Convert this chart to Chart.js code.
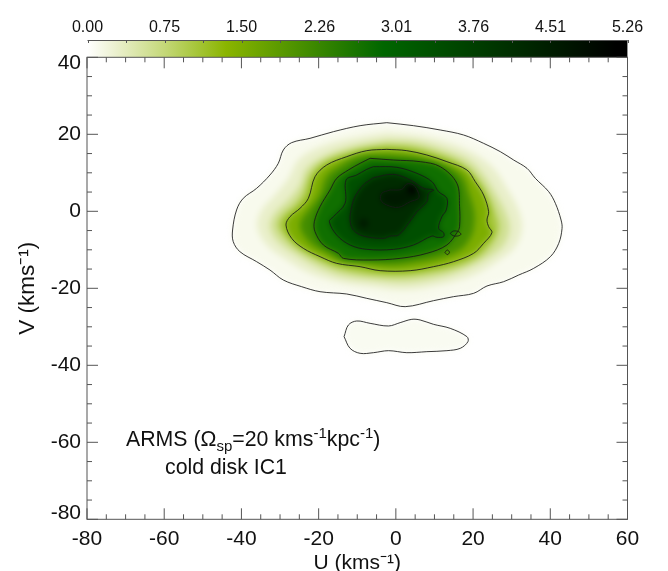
<!DOCTYPE html>
<html>
<head>
<meta charset="utf-8">
<style>
  body { margin: 0; background: #fff; }
  #wrap { position: relative; width: 668px; height: 571px; overflow: hidden; }
  canvas { position: absolute; left: 0; top: 0; }
  #density { filter: blur(3px); }
  .note { position: absolute; font: 21.3px "Liberation Sans", sans-serif; color: #111; white-space: nowrap; }
  .note sup, .note sub { font-size: 15px; line-height: 0; }
</style>
<script src="https://cdn.jsdelivr.net/npm/chart.js@4"></script>
</head>
<body>
<div id="wrap">
  <canvas id="density" width="668" height="571"></canvas>
  <canvas id="colorbar" width="668" height="60"></canvas>
  <canvas id="main" width="668" height="571"></canvas>
  <div class="note" style="left:126px;top:427px">ARMS (&Omega;<sub>sp</sub>=20 kms<sup>-1</sup>kpc<sup>-1</sup>)</div>
  <div class="note" style="left:165px;top:455px">cold disk IC1</div>
</div>
<script>
// colour bar
const barTicks = [0, 0.75, 1.5, 2.26, 3.01, 3.76, 4.51, 5.26];
const barLevels = [0, 0.3, 0.75, 1.35, 2.88, 5.15];
const barColors = ['#ffffff', '#e9efca', '#c4d878', '#8ab500', '#006600', '#000000'];

// contours, [U, V] in km/s
const contour1 = [[-2.35,23.02],[4.57,22.24],[11.49,21.12],[17.54,19.82],[22.73,17.65],[27.05,15.49],[30.51,13.32],[33.97,11.16],[36.13,8.56],[39.59,5.10],[41.32,2.07],[42.79,-2.26],[43.05,-4.43],[42.19,-8.32],[40.03,-11.78],[35.70,-14.82],[31.81,-16.55],[27.92,-18.28],[23.60,-19.40],[20.14,-21.31],[14.95,-22.17],[9.76,-23.21],[2.41,-24.77],[-2.35,-23.73],[-7.53,-22.61],[-12.72,-21.48],[-19.64,-20.88],[-24.40,-19.58],[-29.15,-17.85],[-32.61,-15.25],[-36.07,-13.08],[-40.39,-10.49],[-42.12,-7.89],[-42.29,-4.86],[-41.26,0.34],[-39.53,3.37],[-36.07,5.96],[-32.61,9.43],[-30.45,12.46],[-29.15,15.92],[-26.99,17.83],[-22.23,18.95],[-16.18,20.68],[-9.26,22.24]];
const contour2 = [[-2.35,16.09],[2.84,15.75],[8.03,14.62],[13.22,12.89],[18.41,10.73],[20.57,7.70],[22.73,4.23],[24.03,-0.10],[23.60,-2.26],[24.03,-3.99],[24.89,-5.55],[22.73,-8.32],[20.14,-10.92],[14.95,-13.08],[9.76,-14.38],[3.71,-15.42],[-4.07,-15.42],[-9.26,-14.38],[-15.32,-13.52],[-19.64,-11.78],[-23.96,-9.62],[-26.99,-7.02],[-28.46,-3.56],[-27.42,-1.40],[-24.83,0.77],[-22.66,3.37],[-20.94,8.99],[-17.91,12.02],[-12.72,14.19],[-7.53,15.75]];
const contour3 = [[-6.67,13.76],[-0.62,13.32],[6.30,12.89],[11.49,11.59],[15.81,7.26],[16.50,1.20],[16.50,-3.99],[15.99,-5.29],[13.22,-8.75],[8.03,-10.92],[1.11,-12.22],[-6.67,-12.65],[-13.59,-12.22],[-14.88,-10.92],[-18.77,-8.75],[-20.94,-5.29],[-21.11,-2.69],[-19.64,1.20],[-17.05,5.53],[-15.32,8.56],[-12.29,10.73],[-9.26,12.46]];
const contour4 = [[-5.80,11.59],[0.25,11.42],[5.44,9.86],[9.33,7.70],[11.06,5.10],[13.22,3.37],[13.05,0.34],[11.92,-1.40],[11.06,-4.43],[12.35,-5.55],[12.35,-6.59],[10.63,-6.76],[9.33,-6.42],[4.57,-8.75],[-0.62,-9.88],[-7.53,-9.88],[-11.86,-8.75],[-15.32,-6.16],[-17.22,-2.69],[-16.18,-1.40],[-13.15,2.07],[-12.89,8.13],[-10.13,9.43],[-7.53,10.90]];
const contour5 = [[-5.80,8.73],[-0.62,9.60],[3.71,8.13],[7.17,5.96],[9.76,5.53],[8.46,4.67],[8.03,2.50],[5.44,-0.10],[3.27,-3.13],[0.68,-6.16],[-1.48,-6.42],[-3.21,-7.02],[-8.40,-6.42],[-10.99,-4.86],[-11.86,-2.26],[-11.42,1.20],[-10.56,3.80],[-8.40,6.83]];
const contour6 = [[-1.48,5.53],[1.55,5.70],[2.84,7.09],[4.57,6.83],[5.87,4.67],[5.87,3.37],[3.71,2.50],[0.68,1.03],[-2.35,1.63],[-3.90,2.93],[-3.64,4.67]];
const island = [[-13.41,-32.56],[-12.29,-29.53],[-10.13,-28.49],[-6.67,-29.10],[-1.91,-29.79],[1.11,-28.92],[4.14,-28.06],[6.30,-28.23],[9.76,-29.36],[14.08,-30.40],[18.41,-32.56],[18.67,-33.86],[16.68,-35.59],[13.22,-36.20],[8.03,-36.46],[2.84,-36.72],[-1.91,-36.20],[-5.81,-36.72],[-9.26,-36.89],[-11.86,-35.59]];
const oval = [[14.08,-5.72],[14.95,-5.12],[16.25,-5.29],[16.85,-5.98],[15.99,-6.42],[14.78,-6.33]];
const ring = [[12.7,-10.66],[13.31,-10.05],[13.9,-10.66],[13.31,-11.25]];

// in-between shells of the density, only used for the shading
const shellB = [[-2.35,20.42],[6.30,19.56],[14.08,17.65],[20.14,15.05],[25.33,11.16],[28.78,5.96],[31.81,0.34],[32.67,-4.43],[30.95,-9.19],[26.19,-13.08],[20.14,-16.55],[11.49,-19.14],[2.41,-20.44],[-6.67,-19.58],[-15.32,-18.28],[-22.23,-16.11],[-28.29,-12.65],[-33.47,-8.75],[-35.90,-3.99],[-34.77,0.34],[-31.31,4.23],[-27.85,8.56],[-25.26,13.32],[-20.50,16.35],[-12.72,18.69]];
const shellC = [[-2.35,18.52],[5.44,18.08],[12.35,16.09],[18.84,13.32],[22.73,9.43],[25.76,4.67],[28.35,-0.10],[29.48,-4.43],[27.92,-8.75],[23.60,-12.22],[17.54,-15.25],[10.63,-17.41],[2.41,-18.54],[-6.67,-17.85],[-14.45,-16.72],[-20.50,-14.38],[-25.69,-11.35],[-30.45,-7.89],[-32.61,-3.99],[-31.31,-0.53],[-27.85,2.93],[-24.83,6.83],[-23.10,11.16],[-17.91,14.62],[-10.13,17.22]];
const shellD = [[-2.35,17.22],[4.14,16.79],[10.63,15.05],[16.68,12.46],[21.00,8.56],[24.03,3.80],[25.76,-0.53],[26.62,-4.43],[24.89,-8.32],[21.44,-11.78],[15.81,-14.38],[9.76,-15.85],[2.41,-16.81],[-5.80,-16.55],[-13.59,-15.25],[-19.21,-13.08],[-24.83,-10.05],[-28.72,-6.59],[-30.45,-3.56],[-29.15,-0.96],[-26.12,1.63],[-23.96,4.67],[-22.23,9.43],[-18.77,12.89],[-11.86,15.49],[-6.67,16.61]];
const shellE = [[-2.35,14.8],[3,14.4],[8,13.6],[13,12.0],[17.3,9.0],[19,4.5],[20.3,0],[20.3,-3.5],[19.5,-6.5],[17,-9.8],[12,-12],[6,-13.2],[0,-14],[-7,-13.6],[-14,-13],[-17.5,-11],[-21.5,-8.8],[-24.3,-5.5],[-24.7,-2.8],[-22.3,0.8],[-19.8,4.2],[-18,9],[-15,11.5],[-10,14.3]];
const peakA = [[3.2,6.6],[4.4,7.0],[5.4,6.0],[5.2,4.8],[4.0,4.6],[3.1,5.5]];
const peakB = [[-9.1,-2.4],[-8.1,-2.1],[-7.3,-3.0],[-8.0,-4.0],[-9.0,-3.8]];

// outer to inner: outline and density level
const shells = [contour1, island, shellB, shellC, shellD, contour2, shellE, contour3, contour4, contour5, contour6, peakA, peakB];
const shellLevels = [0.1, 0.08, 0.3, 0.6, 1.05, 1.5, 2.15, 2.7, 3.4, 4.2, 4.6, 5.4, 4.8];
const contourLines = [contour1, island, contour2, contour3, contour4, contour5, contour6, oval, ring];

const FONT = '"Liberation Sans", sans-serif';
const AREA = { left: 87, right: 40.5, top: 57.3, bottom: 51.7 };

function hexRgb(h) {
  return [1, 3, 5].map(i => parseInt(h.substr(i, 2), 16));
}

function levelColor(v) {
  let i = 0;
  while (i < barLevels.length - 2 && v > barLevels[i + 1]) i++;
  const t = Math.min(1, (v - barLevels[i]) / (barLevels[i + 1] - barLevels[i]));
  const a = hexRgb(barColors[i]), b = hexRgb(barColors[i + 1]);
  return 'rgb(' + a.map((c, k) => Math.round(c + (b[k] - c) * t)).join(',') + ')';
}

function closed(pts) {
  return pts.concat([pts[0]]).map(p => ({ x: p[0], y: p[1] }));
}

const xRange = { type: 'linear', min: -80, max: 60 };
const yRange = { type: 'linear', min: -80, max: 40 };

// smooth density underneath, blurred with css
new Chart(document.getElementById('density'), {
  type: 'scatter',
  data: {
    datasets: shells.map((pts, i) => ({
      data: closed(pts),
      showLine: true,
      tension: 0.35,
      fill: 'shape',
      borderWidth: 0,
      pointRadius: 0,
      backgroundColor: levelColor(shellLevels[i]),
      order: -i
    }))
  },
  options: {
    responsive: false,
    animation: false,
    events: [],
    layout: { padding: AREA },
    plugins: { legend: { display: false }, tooltip: { enabled: false } },
    scales: { x: { ...xRange, display: false }, y: { ...yRange, display: false } }
  }
});

// colour bar, a single bar with the gradient of the colour scale
new Chart(document.getElementById('colorbar'), {
  type: 'bar',
  data: {
    labels: [''],
    datasets: [{
      data: [barTicks[barTicks.length - 1]],
      barPercentage: 1,
      categoryPercentage: 1,
      backgroundColor(ctx) {
        const s = ctx.chart.scales.x;
        const x0 = s ? s.getPixelForValue(0) : NaN, x1 = s ? s.getPixelForValue(5.26) : NaN;
        if (!isFinite(x0) || !isFinite(x1)) return '#000';
        const g = ctx.chart.ctx.createLinearGradient(x0, 0, x1, 0);
        barLevels.forEach((v, i) => g.addColorStop(v / 5.26, barColors[i]));
        return g;
      }
    }]
  },
  options: {
    indexAxis: 'y',
    responsive: false,
    animation: false,
    events: [],
    layout: { padding: { left: AREA.left + 0.5, right: AREA.right, top: 0, bottom: 60 - AREA.top } },
    plugins: { legend: { display: false }, tooltip: { enabled: false } },
    scales: {
      x: {
        type: 'linear',
        position: 'top',
        min: 0,
        max: 5.26,
        afterBuildTicks(s) { s.ticks = barTicks.map(v => ({ value: v })); },
        afterFit(s) { s.height = 40; },
        grid: { display: false, drawTicks: false },
        border: { display: false },
        ticks: {
          autoSkip: false,
          maxRotation: 0,
          padding: 3,
          color: '#111',
          font: { family: FONT, size: 16 },
          callback: v => v.toFixed(2)
        }
      },
      y: { display: false }
    }
  },
  plugins: [{
    id: 'barTicks',
    afterDraw(chart) {
      const { ctx, chartArea: a, scales } = chart;
      ctx.save();
      ctx.strokeStyle = '#555';
      ctx.lineWidth = 1;
      ctx.beginPath();
      ctx.moveTo(a.left, a.top + 0.5);
      ctx.lineTo(a.right, a.top + 0.5);
      for (let k = 0; k <= 14; k++) {
        const x = Math.round(scales.x.getPixelForValue(k * 5.26 / 14)) + 0.5;
        ctx.moveTo(x, a.top);
        ctx.lineTo(x, a.top + 3);
      }
      ctx.stroke();
      ctx.restore();
    }
  }]
});

// axes frame with inward ticks on all four sides
const frameTicks = {
  id: 'frameTicks',
  afterDraw(chart) {
    const { ctx, chartArea: a, scales: { x, y } } = chart;
    ctx.save();
    ctx.strokeStyle = '#555';
    ctx.lineWidth = 1;
    ctx.strokeRect(a.left, a.top, a.right - a.left, a.bottom - a.top);
    ctx.beginPath();
    for (let u = -80; u <= 60; u += 5) {
      const px = x.getPixelForValue(u), len = u % 20 === 0 ? 11 : 5;
      ctx.moveTo(px, a.bottom); ctx.lineTo(px, a.bottom - len);
      ctx.moveTo(px, a.top); ctx.lineTo(px, a.top + len);
    }
    for (let v = -80; v <= 40; v += 5) {
      const py = y.getPixelForValue(v), len = v % 20 === 0 ? 11 : 5;
      ctx.moveTo(a.left, py); ctx.lineTo(a.left + len, py);
      ctx.moveTo(a.right, py); ctx.lineTo(a.right - len, py);
    }
    ctx.stroke();
    ctx.restore();
  }
};

new Chart(document.getElementById('main'), {
  type: 'scatter',
  data: {
    datasets: contourLines.map(pts => ({
      data: closed(pts),
      showLine: true,
      tension: 0.35,
      borderColor: 'rgba(25,25,25,0.85)',
      borderWidth: 1,
      pointRadius: 0
    }))
  },
  options: {
    responsive: false,
    animation: false,
    events: [],
    layout: { padding: { left: 0, right: AREA.right, top: AREA.top, bottom: 0 } },
    plugins: { legend: { display: false }, tooltip: { enabled: false } },
    scales: {
      x: {
        ...xRange,
        afterFit(s) { s.height = AREA.bottom; },
        grid: { display: false, drawTicks: false },
        border: { display: false },
        title: { display: true, text: 'U (kms⁻¹)', color: '#111', font: { family: FONT, size: 21 }, padding: { top: 0, bottom: -5 } },
        ticks: { stepSize: 20, maxRotation: 0, padding: 7, color: '#111', font: { family: FONT, size: 21 } }
      },
      y: {
        ...yRange,
        afterFit(s) { s.width = AREA.left; },
        grid: { display: false, drawTicks: false },
        border: { display: false },
        title: { display: true, text: 'V (kms⁻¹)', color: '#111', font: { family: FONT, size: 22.5 }, padding: { top: 14, bottom: 14 } },
        ticks: {
          stepSize: 20,
          padding: 6,
          color: '#111',
          // 12px line height plus an empty line pushes the end labels inside the frame
          font: { family: FONT, size: 21, lineHeight: '12px' },
          callback(v) {
            if (v === 40) return ['', '40'];
            if (v === -80) return ['-80', ''];
            return String(v);
          }
        }
      }
    }
  },
  plugins: [frameTicks]
});
</script>
</body>
</html>
